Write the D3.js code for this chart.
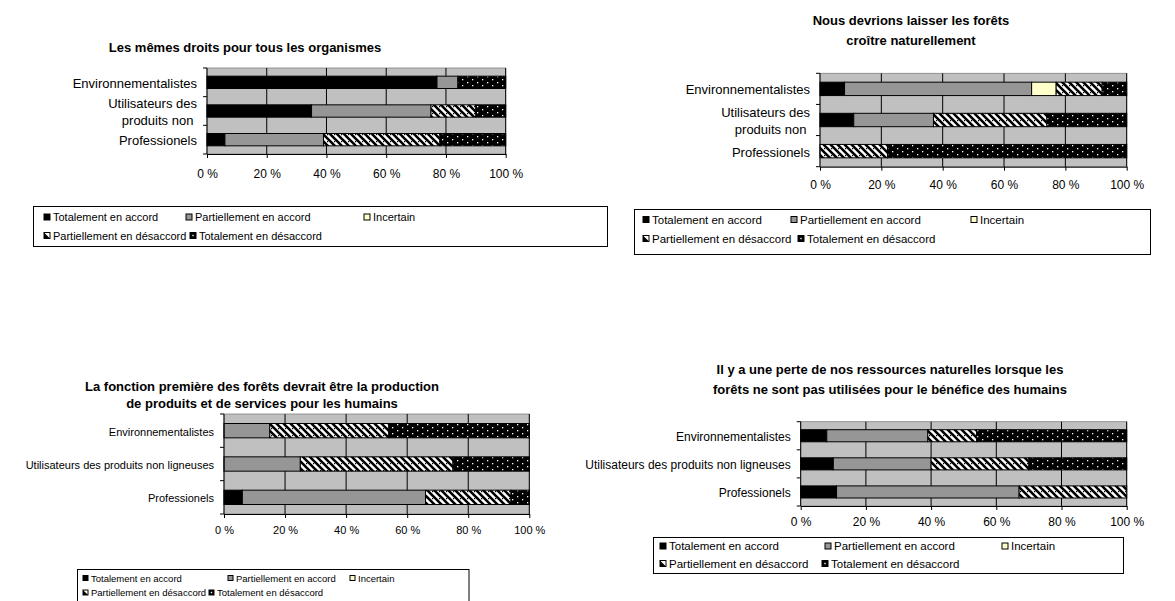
<!DOCTYPE html>
<html><head><meta charset="utf-8">
<script src="https://cdn.jsdelivr.net/npm/d3@7"></script>
<style>
body{margin:0;background:#fff}
svg{display:block}
text{font-family:"Liberation Sans",Arial,sans-serif;fill:#000}
</style>
</head><body>
<svg id="c" width="1175" height="601"></svg>
<script>
// ---------- DATA ----------
const seriesNames = ["Totalement en accord","Partiellement en accord","Incertain","Partiellement en désaccord","Totalement en désaccord"];
const groups = ["Environnementalistes","Utilisateurs des produits non ligneuses","Professionels"];
const shortGroupLabels = [["Environnementalistes"],["Utilisateurs des","produits non "],["Professionels"]];
const fullGroupLabels = [["Environnementalistes"],["Utilisateurs des produits non ligneuses"],["Professionels"]];
const tickValues = [0,20,40,60,80,100];
const tickLabels = ["0 %","20 %","40 %","60 %","80 %","100 %"];

const title1 = ["Les mêmes droits pour tous les organismes"];
const title2 = ["Nous devrions laisser les forêts","croître naturellement"];
const title3 = ["La fonction première des forêts devrait être la production","de produits et de services pour les humains"];
const title4 = ["Il y a une perte de nos ressources naturelles lorsque les","forêts ne sont pas utilisées pour le bénéfice des humains"];

// rows: Environnementalistes, Utilisateurs..., Professionels ; columns: the 5 series
const values1 = [[77,7,0,0,16],[35,40,0,15,10],[6,33,0,39,22]];
const values2 = [[8,61,8,15,8],[11,26,0,37,26],[0,0,0,22,78]];
const values3 = [[0,15,0,39,46],[0,25,0,50,25],[6,60,0,28,6]];
const values4 = [[8,31,0,15,46],[10,30,0,30,30],[11,56,0,33,0]];

// ---------- STYLE ----------
const fills = ["#000000","#969696","#ffffcc","url(#hatch)","url(#dots)"];

const svg = d3.select("#c");
const defs = svg.append("defs");
const ph = defs.append("pattern").attr("id","hatch").attr("patternUnits","userSpaceOnUse")
  .attr("width",7).attr("height",7);
ph.append("rect").attr("width",7).attr("height",7).attr("fill","#fff");
ph.append("path").attr("d","M-2,-2L9,9M-9,-2L2,9M5,-2L16,9").attr("stroke","#000").attr("stroke-width",2.6);
ph.append("rect").attr("x",5).attr("y",1).attr("width",1.2).attr("height",1.2).attr("fill","#000");
const pd = defs.append("pattern").attr("id","dots").attr("patternUnits","userSpaceOnUse")
  .attr("width",10).attr("height",6);
pd.append("rect").attr("width",10).attr("height",6).attr("fill","#000");
pd.append("rect").attr("x",2).attr("y",1).attr("width",1.3).attr("height",1.3).attr("fill","#fff");
pd.append("rect").attr("x",7).attr("y",4).attr("width",1.3).attr("height",1.3).attr("fill","#fff");

function drawChart(cfg){
  const g = svg.append("g");
  const x = d3.scaleLinear().domain([0,100]).range([cfg.x0,cfg.x1]);
  const y = d3.scaleBand().domain(groups).range([cfg.y0,cfg.y1]).paddingInner(0.57).paddingOuter(0.285);

  g.append("rect").attr("x",cfg.x0).attr("y",cfg.y0).attr("width",cfg.x1-cfg.x0).attr("height",cfg.y1-cfg.y0)
    .attr("fill","#c0c0c0").attr("stroke","#808080").attr("stroke-width",0.8);
  g.selectAll(null).data(tickValues.slice(1)).join("line")
    .attr("x1",d=>x(d)).attr("x2",d=>x(d)).attr("y1",cfg.y0).attr("y2",cfg.y1)
    .attr("stroke","#000").attr("stroke-width",1);

  const rows = cfg.values.map((v,i)=>({group:groups[i], vals:v}));
  const layers = d3.stack().keys(d3.range(seriesNames.length)).value((d,k)=>d.vals[k])(rows);
  layers.forEach((layer,k)=>{
    g.selectAll(null).data(layer.filter(d=>d[1]>d[0])).join("rect")
      .attr("x",d=>x(d[0])).attr("y",d=>y(d.data.group))
      .attr("width",d=>x(d[1])-x(d[0])).attr("height",y.bandwidth())
      .attr("fill",fills[k]).attr("stroke","#000").attr("stroke-width",1);
  });

  const xa = g.append("g").attr("transform",`translate(0,${cfg.y1})`)
    .call(d3.axisBottom(x).tickValues(tickValues).tickFormat((d,i)=>tickLabels[i]).tickSize(4).tickSizeOuter(0).tickPadding(cfg.tickPad));
  xa.select(".domain").attr("stroke","#000");
  xa.selectAll("line").attr("stroke","#000");
  xa.selectAll("text").attr("font-size",cfg.tickFont).attr("font-family",null);

  const yb = d3.scaleLinear().domain([0,groups.length]).range([cfg.y0,cfg.y1]);
  g.append("line").attr("x1",cfg.x0).attr("x2",cfg.x0).attr("y1",cfg.y0).attr("y2",cfg.y1).attr("stroke","#000");
  g.selectAll(null).data(d3.range(groups.length+1)).join("line")
    .attr("x1",cfg.x0-4).attr("x2",cfg.x0).attr("y1",d=>yb(d)).attr("y2",d=>yb(d)).attr("stroke","#000");

  groups.forEach((grp,i)=>{
    const lines = cfg.labels[i];
    const cy = y(grp)+y.bandwidth()/2 + 1;
    lines.forEach((ln,j)=>{
      g.append("text").attr("x",cfg.x0-10).attr("y",cy + (j-(lines.length-1)/2)*cfg.labelLH)
        .attr("text-anchor","end").attr("dominant-baseline","central")
        .attr("font-size",cfg.labelFont).style("white-space","pre").text(ln);
    });
  });

  cfg.title.forEach((t,j)=>{
    g.append("text").attr("x",cfg.tx).attr("y",cfg.ty + j*cfg.tlh).attr("text-anchor","middle")
      .attr("dominant-baseline","central").attr("font-weight","bold").attr("font-size",cfg.titleFont).text(t);
  });

  const L = cfg.legend;
  g.append("rect").attr("x",L.x).attr("y",L.y).attr("width",L.w).attr("height",L.h)
    .attr("fill","#fff").attr("stroke","#000").attr("stroke-width",1);
  seriesNames.forEach((name,k)=>{
    const [mx,my] = L.items[k];
    const s = L.ms;
    const it = g.append("g");
    if(k===3){
      it.append("rect").attr("x",mx).attr("y",my-s/2).attr("width",s).attr("height",s).attr("fill","#fff").attr("stroke","#000");
      it.append("path").attr("d",`M${mx},${my-s/2}L${mx+s},${my+s/2}L${mx},${my+s/2}Z`).attr("fill","#000");
    } else if(k===4){
      it.append("rect").attr("x",mx).attr("y",my-s/2).attr("width",s).attr("height",s).attr("fill","#000").attr("stroke","#000");
      it.append("rect").attr("x",mx+s/2-0.7).attr("y",my-0.7).attr("width",1.4).attr("height",1.4).attr("fill","#fff");
    } else {
      it.append("rect").attr("x",mx).attr("y",my-s/2).attr("width",s).attr("height",s).attr("fill",fills[k]).attr("stroke","#000");
    }
    it.append("text").attr("x",mx+s+3).attr("y",my).attr("dominant-baseline","central")
      .attr("font-size",L.font).text(name);
  });
}

drawChart({values:values1, labels:shortGroupLabels, title:title1,
  x0:207, x1:505.7, y0:68, y1:154, labelFont:13, labelLH:16.5, tickFont:12, tickPad:11,
  tx:245, ty:47, tlh:18, titleFont:13,
  legend:{x:33.5, y:206.5, w:574, h:40, font:11, ms:6,
    items:[[44,217],[186,217],[364,217],[44,235.5],[190,235.5]]}});

drawChart({values:values2, labels:shortGroupLabels, title:title2,
  x0:820, x1:1126.7, y0:73.3, y1:166.7, labelFont:13, labelLH:16.5, tickFont:12, tickPad:9.5,
  tx:911, ty:20, tlh:20, titleFont:13,
  legend:{x:634.5, y:209.5, w:516, h:45, font:11.5, ms:6,
    items:[[643,219.5],[791,219.5],[971,219.5],[643,238.5],[798,238.5]]}});

drawChart({values:values3, labels:fullGroupLabels, title:title3,
  x0:224, x1:529.3, y0:414, y1:514, labelFont:11, labelLH:14, tickFont:11, tickPad:8.5,
  tx:262, ty:386, tlh:17, titleFont:13,
  legend:{x:77.5, y:569.5, w:391.5, h:36, font:9.5, ms:5,
    items:[[83,578],[228,578],[350,578],[83,592.5],[209,592.5]]}});

drawChart({values:values4, labels:fullGroupLabels, title:title4,
  x0:800.7, x1:1126.7, y0:421.7, y1:506, labelFont:12, labelLH:15, tickFont:12, tickPad:7.5,
  tx:890, ty:369, tlh:20, titleFont:13,
  legend:{x:653.5, y:537.5, w:470, h:36, font:11.5, ms:6,
    items:[[660,546],[825,546],[1002,546],[660,563.5],[822,563.5]]}});
</script>
</body></html>
